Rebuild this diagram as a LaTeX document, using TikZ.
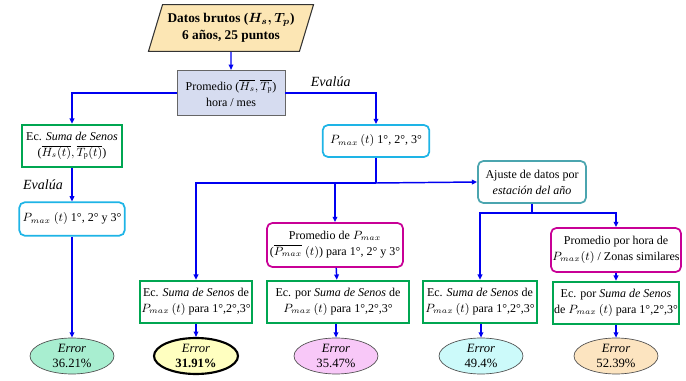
\documentclass[tikz,border=0pt]{standalone}
\usepackage{fontspec}
\setmainfont{Liberation Serif}
\usetikzlibrary{shapes.geometric,arrows.meta}
\definecolor{ecverde}{RGB}{0,166,81}
\definecolor{eccian}{RGB}{30,180,230}
\definecolor{ecmagenta}{RGB}{200,0,150}
\definecolor{ecteal}{RGB}{75,165,175}
\definecolor{linazul}{RGB}{0,0,240}
\definecolor{crudo}{RGB}{252,230,180}
\definecolor{gris}{RGB}{214,220,240}
\definecolor{errverde}{RGB}{168,238,208}
\definecolor{erramar}{RGB}{255,255,192}
\definecolor{errrosa}{RGB}{248,200,248}
\definecolor{errcian}{RGB}{204,250,250}
\definecolor{errdura}{RGB}{252,228,192}
\tikzstyle{every node}=[font=\fontsize{9}{12}\selectfont, align=center]
\tikzstyle{caja}=[draw=ecverde, line width=1.3pt, fill=white, inner sep=1pt]
\tikzstyle{redon}=[caja, rounded corners=4pt]
\tikzstyle{errel}=[ellipse, draw=black!70, line width=0.5pt, minimum width=63pt, minimum height=27pt,
	inner xsep=0pt, inner ysep=-3pt, font=\fontsize{9.5}{11}\selectfont]
\tikzstyle{linea}=[draw=linazul, line width=1.1pt]
\tikzstyle{flecha}=[linea, -{Triangle[length=4pt,width=3.5pt]}]

\begin{document}
\begin{tikzpicture}[x=0.75pt, y=-0.75pt]
	\useasboundingbox (0,0) rectangle (686,381);
	\node (crudos) at (231,28) [trapezium, trapezium left angle=70, trapezium right angle=110,
		trapezium stretches=true, minimum width=124pt, minimum height=35pt, draw=black!80,
		line width=0.8pt, fill=crudo, font=\fontsize{10}{13}\selectfont\bfseries\boldmath]
		{Datos brutos ($H_s, T_p$)\\6 años, 25 puntos};
	\node (prom) at (231,93) [draw=black!60, line width=0.6pt, fill=gris, minimum width=81pt, minimum height=34pt]
		{Promedio ($\overline{H_s}, \overline{T_{\mathrm{p}}}$)\\hora / mes};
	\node (ecsen) at (72,146) [caja, minimum width=75pt, minimum height=32pt]
		{Ec. \textit{Suma de Senos}\\($\overline{H_s(t)}, \overline{T_{\mathrm{p}}(t)}$)};
	\node (pmaxizq) at (72,219) [redon, draw=eccian, minimum width=79pt, minimum height=25pt]
		{$P_{max}$ $(t)$ 1°, 2° y 3°};
	\node (pmaxder) at (376,141) [redon, draw=eccian, minimum width=80pt, minimum height=24pt]
		{$P_{max}\,(t)$ 1°, 2°, 3°};
	\node (ajuste) at (532,182) [redon, draw=ecteal, minimum width=81pt, minimum height=31.5pt]
		{Ajuste de datos por\\\textit{estación del año}};
	\node (prompmax) at (335,245) [redon, draw=ecmagenta, minimum width=102pt, minimum height=33pt]
		{Promedio de $P_{max}$\\($\overline{P_{max}}$ $(t)$) para 1°, 2° y 3°};
	\node (prommax) at (616,250) [redon, draw=ecmagenta, minimum width=96pt, minimum height=33pt]
		{Promedio por hora de\\$P_{max}(t)$ / Zonas similares};
	\node (ecuno) at (196,302) [caja, minimum width=82.5pt, minimum height=32pt]
		{Ec. \textit{Suma de Senos} de\\$P_{max}\,(t)$ para 1°,2°,3°};
	\node (ecdos) at (338,302) [caja, minimum width=106.5pt, minimum height=32pt]
		{Ec. por \textit{Suma de Senos} de\\$P_{max}\,(t)$ para 1°,2°,3°};
	\node (ectres) at (480,302) [caja, minimum width=85.5pt, minimum height=32pt]
		{Ec. \textit{Suma de Senos} de\\$P_{max}\,(t)$ para 1°,2°,3°};
	\node (eccuatro) at (616,303) [caja, minimum width=94pt, minimum height=32pt]
		{Ec. por \textit{Suma de Senos}\\de $P_{max}\,(t)$ para 1°,2°,3°};
	\node (errizq) at (72,356) [errel, fill=errverde] {\textit{Error}\\36.21\%};
	\node (erruno) at (196,356) [errel, fill=erramar, draw=black, line width=1.6pt] {\textit{Error}\\\textbf{31.91\%}};
	\node (errdos) at (336,356) [errel, fill=errrosa] {\textit{Error}\\35.47\%};
	\node (errtres) at (481,356) [errel, fill=errcian] {\textit{Error}\\49.4\%};
	\node (errcuatro) at (616,356) [errel, fill=errdura] {\textit{Error}\\52.39\%};
	\coordinate (cruce) at (376,183);
	\coordinate (ramal) at (532,213);

	\draw[flecha] (crudos) -- (prom);
	\draw[flecha] (prom.west) -| (ecsen.north);
	\draw[flecha] (prom.east) -| node[pos=0.25, above=1pt, font=\fontsize{10.5}{12}\selectfont\itshape] {Evalúa} (pmaxder.north);
	\draw[flecha] (ecsen) -- node[left=3pt, font=\fontsize{10.5}{12}\selectfont\itshape] {Evalúa} (pmaxizq);
	\draw[flecha] (pmaxizq) -- (errizq);
	\draw[linea] (pmaxder) -- (cruce);
	\draw[flecha] (cruce) -| (ecuno.north);
	\draw[flecha] (cruce) -- (ajuste.west);
	\draw[flecha] (prompmax.north |- cruce) -- (prompmax.north);
	\draw[linea] (ajuste) -- (ramal);
	\draw[flecha] (ramal) -| (ectres.north);
	\draw[flecha] (ramal) -| (prommax.north);
	\draw[flecha] (prompmax) -- (ecdos);
	\draw[flecha] (prommax) -- (eccuatro);
	\draw[flecha] (ecuno) -- (erruno);
	\draw[flecha] (ecdos.south -| errdos) -- (errdos);
	\draw[flecha] (ectres.south -| errtres) -- (errtres);
	\draw[flecha] (eccuatro) -- (errcuatro);
\end{tikzpicture}
\end{document}
